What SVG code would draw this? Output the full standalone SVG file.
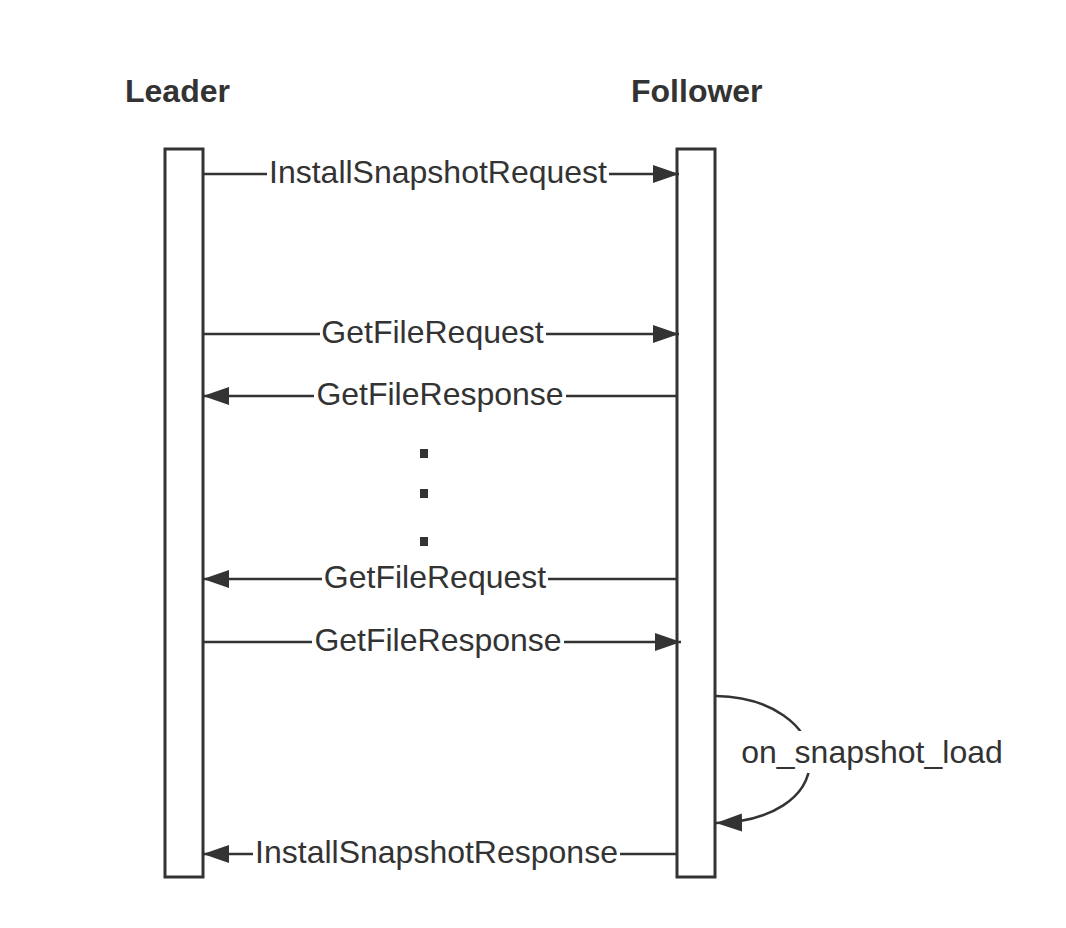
<svg xmlns="http://www.w3.org/2000/svg" width="1066" height="928" viewBox="0 0 1066 928">
<style>
.box{fill:#fff;stroke:#333;stroke-width:3}
.title{font-family:"Liberation Sans",Arial,sans-serif;font-weight:bold;font-size:32px;fill:#333}
.lbl{font-family:"Liberation Sans",Arial,sans-serif;font-size:32px;fill:#333;text-anchor:middle}
.ln{fill:none;stroke:#333;stroke-width:2.5}
.bg{fill:#fff}
</style>
<defs>
<marker id="ah" markerUnits="userSpaceOnUse" markerWidth="28" markerHeight="20" refX="26" refY="9" orient="auto">
<path d="M0,0 L26,9 L0,18 z" fill="#333"/>
</marker>
</defs>
<rect width="1066" height="928" fill="#fff"/>
<g id="leader">
<text class="title" x="125" y="102">Leader</text>
<rect class="box" x="165" y="149" width="38" height="728"/>
</g>
<g id="follower">
<text class="title" x="631" y="102">Follower</text>
<rect class="box" x="677" y="149" width="38" height="728"/>
</g>
<g id="connectors">
<line class="ln" x1="204" y1="174" x2="679" y2="174" marker-end="url(#ah)"/>
<line class="ln" x1="204" y1="334" x2="679" y2="334" marker-end="url(#ah)"/>
<line class="ln" x1="676" y1="396" x2="203" y2="396" marker-end="url(#ah)"/>
<line class="ln" x1="676" y1="579" x2="203" y2="579" marker-end="url(#ah)"/>
<line class="ln" x1="204" y1="642" x2="681" y2="642" marker-end="url(#ah)"/>
<line class="ln" x1="676" y1="854" x2="203" y2="854" marker-end="url(#ah)"/>
<path class="ln" d="M716,696 C770,697 810,725 810,760 C810,798 770,822 716,823" marker-end="url(#ah)"/>
</g>
<g id="labels">
<rect class="bg" x="267" y="158" width="342" height="34"/>
<text class="lbl" x="438" y="183">InstallSnapshotRequest</text>
<rect class="bg" x="320" y="318" width="226" height="34"/>
<text class="lbl" x="432.5" y="343">GetFileRequest</text>
<rect class="bg" x="314" y="380" width="252" height="34"/>
<text class="lbl" x="440" y="405">GetFileResponse</text>
<rect class="bg" x="322" y="563" width="226" height="34"/>
<text class="lbl" x="435" y="588">GetFileRequest</text>
<rect class="bg" x="312" y="626" width="252" height="34"/>
<text class="lbl" x="438" y="651">GetFileResponse</text>
<rect class="bg" x="253" y="838" width="367" height="34"/>
<text class="lbl" x="436.5" y="863">InstallSnapshotResponse</text>
<rect class="bg" x="738" y="731" width="268" height="42"/>
<text class="lbl" x="872" y="763">on_snapshot_load</text>
</g>
<g id="ellipsis" fill="#333">
<rect x="420" y="449" width="8" height="9"/>
<rect x="420" y="489" width="8" height="9"/>
<rect x="420" y="537" width="8" height="9"/>
</g>
</svg>
